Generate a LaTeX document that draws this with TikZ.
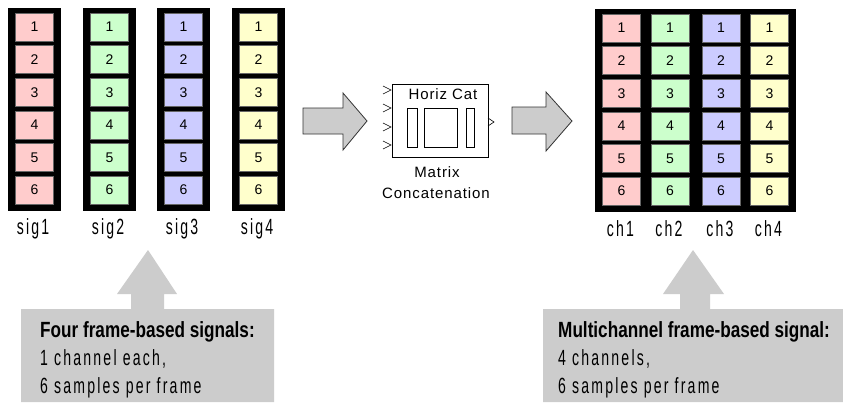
\documentclass[tikz,border=0pt]{standalone}
\usepackage{fontspec}
\newfontfamily\numf{Liberation Sans}
\newfontfamily\blkf[LetterSpace=6]{Liberation Sans}
\newfontfamily\condf[FakeStretch=0.64,LetterSpace=10]{Liberation Sans}
\newfontfamily\condbf[FakeStretch=0.78]{Liberation Sans Bold}
\definecolor{cpink}{HTML}{FFCCCC}
\definecolor{cgreen}{HTML}{CCFFCC}
\definecolor{cblue}{HTML}{CCCCFF}
\definecolor{cyellow}{HTML}{FFFFCC}
\definecolor{cgray}{HTML}{CCCCCC}
\definecolor{cedge}{HTML}{333333}
\tikzset{
  colbox/.style={fill=black,draw=black,inner sep=0,minimum width=52,minimum height=202},
  matbox/.style={fill=black,draw=black,inner sep=0,minimum width=200,minimum height=202},
  cellbox/.style={draw=black!60,line width=0.5pt,inner sep=0,minimum width=38,minimum height=28,
     font=\numf\fontsize{14}{14}\selectfont},
  sublabel/.style={inner sep=0,font=\condf\fontsize{22}{22}\selectfont},
  bigarrow/.style={fill=cgray,draw=cedge,line width=0.8pt,line join=miter},
  callout/.style={fill=cgray,draw=none},
  calltext/.style={anchor=west,inner sep=0,font=\condf\fontsize{22}{22}\selectfont},
  callhead/.style={anchor=west,inner sep=0,font=\condbf\fontsize{22}{22}\selectfont},
  blocktext/.style={inner sep=0,font=\blkf\fontsize{15}{15}\selectfont},
}
\begin{document}
\begin{tikzpicture}[x=1pt,y=-1pt]
\useasboundingbox (0,0) rectangle (843,402);
\fill[white] (0,0) rectangle (843,402);
% left signals
\foreach \k/\cx/\col in {1/34/cpink,2/109/cgreen,3/183/cblue,4/258/cyellow}{
  \node[colbox] (sig\k) at (\cx,109) {};
  \foreach \r in {1,...,6}{
    \node[cellbox,fill=\col] (s\k r\r) at (\cx+0.5,{27+32.6*(\r-1)}) {\r};
  }
  \node[sublabel] (lab\k) at (\cx-1,229) {sig\k};
}
% right matrix
\node[matbox] (mat) at (695,110) {};
\foreach \k/\cx/\col in {1/621.5/cpink,2/670/cgreen,3/721/cblue,4/769.5/cyellow}{
  \foreach \r in {1,...,6}{
    \node[cellbox,fill=\col] (m\k r\r) at (\cx,{28+32.6*(\r-1)}) {\r};
  }
  \node[sublabel] (ch\k) at (\cx-1,229) {ch\k};
}
% big arrows
\draw[bigarrow] (303,108) -- (343,108) -- (343,93) -- (367,121) -- (343,150) -- (343,134) -- (303,134) -- cycle;
\draw[bigarrow] (512,107) -- (546,107) -- (546,92) -- (572,121) -- (546,151) -- (546,134) -- (512,134) -- cycle;
% block
\node[draw=black,line width=0.8pt,fill=white,inner sep=0,minimum width=96,minimum height=73] (blk) at (440,120.5) {};
\node[blocktext] (blkname) at (443,94) {Horiz Cat};
\draw[line width=0.8pt] (407,108) rectangle (417,147);
\draw[line width=0.8pt] (424,108) rectangle (457,147);
\draw[line width=0.8pt] (466,108) rectangle (474,147);
\foreach \yy in {90,108,127,145}{
  \draw[line width=0.6pt] (383,\yy-4) -- (391,\yy) -- (383,\yy+4);
}
\draw[line width=0.6pt] (488,118) -- (494,122) -- (488,126);
\node[blocktext] (blk1) at (437,172) {Matrix};
\node[blocktext] (blk2) at (436,193) {Concatenation};
% callouts
\fill[callout] (148,250) -- (177,294) -- (164,294) -- (164,309) -- (274,309) -- (274,402) -- (21,402) -- (21,309) -- (131,309) -- (131,294) -- (117,294) -- cycle;
\node[callhead] (t1) at (40,332) {Four frame-based signals:};
\node[calltext] (t2) at (40,359) {1 channel each,};
\node[calltext] (t3) at (40,388) {6 samples per frame};
\fill[callout] (693,250) -- (724,294) -- (710,294) -- (710,309) -- (843,309) -- (843,402) -- (543,402) -- (543,309) -- (680,309) -- (680,294) -- (663,294) -- cycle;
\node[callhead] (u1) at (558,332) {Multichannel frame-based signal:};
\node[calltext] (u2) at (558,359) {4 channels,};
\node[calltext] (u3) at (558,388) {6 samples per frame};
\end{tikzpicture}
\end{document}
